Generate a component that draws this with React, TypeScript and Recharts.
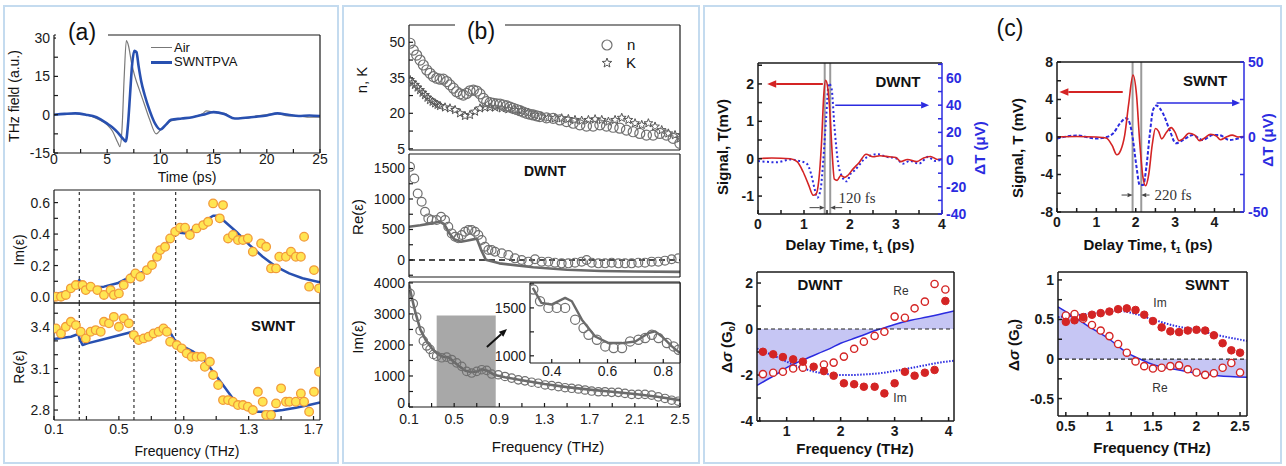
import React from 'react';
import { ComposedChart, Line, Scatter, Area, XAxis, YAxis, ReferenceLine, ReferenceArea } from 'recharts';

const FONT = "Arial, 'Liberation Sans', Helvetica, sans-serif";
const SERIF = "'Liberation Serif', 'Times New Roman', serif";

type P = [number, number];
type Spec = { domain: [number, number]; ticks: number[]; labels?: number[]; fmt?: (v: number) => string };
type Box = { x: number; y: number; w: number; h: number };
type Mg = { l: number; r: number; t: number; b: number };

// ---------------- Panel (a) data ----------------
const A_TIME_AIR: P[] = [[0,0],[1,0.3],[2,0.5],[3,0],[4,-1.5],[5,-4],[5.5,-6.5],[6,-11],[6.2,-12.5],[6.4,-5],[6.6,15],[6.8,29],[7.0,27],[7.3,20],[7.6,15],[8,10],[8.5,4],[9,-2],[9.6,-7.5],[10,-6],[10.5,-4],[11,-2.5],[12,-1.5],[13,-1],[14,0.5],[14.3,1.5],[15,1],[16,0.5],[17,-1.5],[18,-1.5],[19,-0.5],[20,0],[21,0.5],[22,-0.5],[23,-0.5],[24,-1],[25,-1]];
const A_TIME_SWNT: P[] = [[0,0],[1,0.3],[2,0.5],[3,0],[4,-1],[5,-3.5],[5.5,-5],[6,-7],[6.5,-9.5],[6.75,-10.5],[6.95,-4],[7.15,8],[7.35,20],[7.55,25],[7.75,24.5],[7.95,19],[8.2,13],[8.5,8],[9,1.5],[9.5,-3.5],[10,-5.8],[10.5,-4],[11,-2],[12,-1.5],[13,-1],[14,0],[15,1],[16,0.3],[17,-1.5],[18,-1.2],[19,-0.8],[20,-0.3],[21,0.5],[22,0],[23,-0.5],[24,-0.3],[25,-0.5]];
const A_IM_DATA: P[] = [[0.112,0.002],[0.143,0.002],[0.173,0.013],[0.204,0.055],[0.235,0.076],[0.276,0.076],[0.296,0.044],[0.326,0.066],[0.367,0.044],[0.408,0.013],[0.449,0.044],[0.469,0.013],[0.5,0.023],[0.53,0.076],[0.571,0.118],[0.602,0.15],[0.632,0.129],[0.673,0.171],[0.704,0.203],[0.735,0.256],[0.755,0.298],[0.785,0.319],[0.816,0.372],[0.847,0.415],[0.877,0.44],[0.908,0.44],[0.938,0.394],[0.979,0.436],[1.02,0.457],[1.05,0.478],[1.081,0.595],[1.122,0.5],[1.142,0.584],[1.173,0.372],[1.203,0.394],[1.234,0.362],[1.265,0.362],[1.295,0.372],[1.326,0.288],[1.377,0.34],[1.408,0.319],[1.438,0.182],[1.469,0.182],[1.489,0.256],[1.53,0.256],[1.561,0.288],[1.591,0.256],[1.622,0.256],[1.642,0.383],[1.673,0.066],[1.703,0.171],[1.734,0.055]];
const A_IM_FIT: P[] = [[0.1,0.017],[0.163,0.03],[0.224,0.066],[0.256,0.108],[0.285,0.076],[0.326,0.059],[0.408,0.066],[0.49,0.087],[0.551,0.119],[0.593,0.165],[0.622,0.15],[0.653,0.161],[0.694,0.203],[0.755,0.288],[0.816,0.373],[0.85,0.415],[0.877,0.408],[0.918,0.404],[0.979,0.446],[1.04,0.489],[1.081,0.516],[1.112,0.516],[1.142,0.489],[1.224,0.415],[1.306,0.33],[1.387,0.256],[1.469,0.193],[1.55,0.15],[1.632,0.119],[1.74,0.094]];
const A_RE_DATA: P[] = [[0.112,3.39],[0.143,3.354],[0.173,3.402],[0.204,3.438],[0.235,3.414],[0.265,3.366],[0.296,3.318],[0.326,3.366],[0.357,3.378],[0.388,3.366],[0.408,3.438],[0.439,3.427],[0.469,3.474],[0.5,3.402],[0.53,3.463],[0.561,3.427],[0.592,3.342],[0.622,3.306],[0.653,3.318],[0.683,3.33],[0.714,3.354],[0.745,3.366],[0.775,3.39],[0.796,3.366],[0.816,3.294],[0.857,3.27],[0.887,3.246],[0.918,3.21],[0.949,3.185],[0.979,3.185],[1.01,3.185],[1.03,3.113],[1.061,3.149],[1.081,3.053],[1.112,2.981],[1.142,2.872],[1.173,2.872],[1.203,2.86],[1.234,2.836],[1.265,2.836],[1.295,2.824],[1.326,2.8],[1.357,2.932],[1.387,2.86],[1.408,2.764],[1.438,2.764],[1.469,2.848],[1.5,2.957],[1.53,2.86],[1.551,2.86],[1.591,2.86],[1.622,2.92],[1.642,2.86],[1.673,2.788],[1.703,2.932],[1.734,3.077]];
const A_RE_FIT: P[] = [[0.1,3.313],[0.204,3.33],[0.25,3.35],[0.256,3.32],[0.276,3.27],[0.306,3.282],[0.388,3.306],[0.49,3.337],[0.585,3.366],[0.593,3.342],[0.612,3.318],[0.653,3.337],[0.714,3.354],[0.775,3.395],[0.796,3.39],[0.826,3.342],[0.857,3.282],[0.898,3.258],[0.959,3.222],[1.02,3.173],[1.081,3.077],[1.142,2.981],[1.203,2.884],[1.265,2.824],[1.347,2.788],[1.428,2.788],[1.51,2.8],[1.591,2.817],[1.673,2.836],[1.74,2.855]];
const A_DASH_F = [0.256, 0.593, 0.85];

// ---------------- Panel (b) data ----------------
const B_N: P[] = [[0.109,49.6],[0.138,46.7],[0.168,44.6],[0.198,42.5],[0.227,40.4],[0.257,38.3],[0.286,36.9],[0.316,35.5],[0.345,34.8],[0.375,34.4],[0.404,34.4],[0.434,33.4],[0.463,32.0],[0.493,30.6],[0.522,29.1],[0.552,28.2],[0.581,27.7],[0.611,28.4],[0.64,29.5],[0.67,29.8],[0.7,29.4],[0.729,28.2],[0.759,26.3],[0.788,24.9],[0.818,24.5],[0.847,24.2],[0.876,24.0],[0.906,23.9],[0.935,23.5],[0.965,23.1],[0.995,22.6],[1.024,22.1],[1.054,21.6],[1.083,21.1],[1.113,20.5],[1.142,20.0],[1.171,19.6],[1.2,19.3],[1.23,18.9],[1.259,18.6],[1.318,18.1],[1.377,17.9],[1.436,17.2],[1.495,16.5],[1.554,15.8],[1.613,15.1],[1.672,14.6],[1.731,14.6],[1.79,15.1],[1.849,14.6],[1.908,14.1],[1.967,13.7],[2.026,12.9],[2.085,12.2],[2.144,11.5],[2.203,10.8],[2.262,10.8],[2.321,11.5],[2.38,10.8],[2.439,9.4],[2.498,7.3]];
const B_K: P[] = [[0.109,34.1],[0.131,33.0],[0.153,32],[0.176,30.9],[0.198,29.8],[0.22,28.7],[0.242,27.7],[0.264,26.6],[0.286,25.6],[0.309,24.9],[0.331,24.2],[0.353,23.6],[0.375,23.1],[0.419,22.5],[0.463,22.1],[0.508,21.4],[0.552,20],[0.596,18.9],[0.64,19.3],[0.685,20.7],[0.729,22.1],[0.773,22.5],[0.818,22.5],[0.862,22.5],[0.921,22.1],[0.98,21.7],[1.039,21.4],[1.098,21.1],[1.157,20.3],[1.216,19.3],[1.275,18.6],[1.334,18.1],[1.393,17.9],[1.452,17.9],[1.511,17.6],[1.57,17.2],[1.629,16.9],[1.689,17.2],[1.748,17.5],[1.807,17.2],[1.866,16.5],[1.925,17.2],[1.984,18.1],[2.043,17.2],[2.102,15.8],[2.161,15.1],[2.22,15.8],[2.279,14.4],[2.338,12.9],[2.397,11.5],[2.456,10.8],[2.5,9.4]];
const B_RE_DATA: P[] = [[0.109,1527],[0.147,1337],[0.177,1091],[0.212,955],[0.242,791],[0.271,682],[0.301,655],[0.345,655],[0.384,709],[0.419,655],[0.448,545],[0.478,436],[0.508,382],[0.537,355],[0.567,409],[0.596,464],[0.626,491],[0.655,491],[0.685,464],[0.714,409],[0.744,327],[0.773,218],[0.803,164],[0.832,164],[0.862,136],[0.921,109],[0.98,82],[1.039,27],[1.098,0],[1.157,-27],[1.216,11],[1.275,-27],[1.334,-27],[1.393,-44],[1.452,-55],[1.511,-55],[1.57,-44],[1.629,-27],[1.673,0],[1.718,-44],[1.777,-55],[1.836,-55],[1.895,-44],[1.954,-55],[2.013,-55],[2.072,-55],[2.131,-44],[2.19,-44],[2.249,-27],[2.308,-27],[2.367,-11],[2.426,11],[2.485,27]];
const B_RE_FIT: P[] = [[0.1,545],[0.2,570],[0.3,600],[0.37,630],[0.41,590],[0.46,430],[0.5,340],[0.56,300],[0.62,320],[0.7,350],[0.74,160],[0.78,5],[0.9,-55],[1.2,-120],[1.5,-160],[1.8,-180],[2.1,-190],[2.5,-195]];
const B_IM_DATA: P[] = [[0.109,3662],[0.138,3334],[0.168,2898],[0.198,2459],[0.227,2131],[0.257,1967],[0.286,1859],[0.316,1695],[0.345,1639],[0.39,1587],[0.434,1607],[0.478,1531],[0.522,1423],[0.567,1311],[0.611,1148],[0.655,1095],[0.7,1150],[0.744,1203],[0.788,1180],[0.832,1062],[0.891,1039],[0.95,984],[1.009,931],[1.068,875],[1.127,843],[1.186,800],[1.245,767],[1.305,711],[1.364,689],[1.423,656],[1.482,623],[1.541,603],[1.6,580],[1.659,548],[1.718,515],[1.777,492],[1.836,492],[1.895,472],[1.954,472],[2.013,439],[2.072,407],[2.131,407],[2.19,407],[2.249,384],[2.308,328],[2.367,275],[2.426,220],[2.485,187]];
const B_IM_FIT: P[] = [[0.1,3950],[0.13,3450],[0.16,3000],[0.2,2500],[0.25,2150],[0.3,1900],[0.35,1720],[0.4,1620],[0.45,1600],[0.5,1450],[0.55,1300],[0.6,1170],[0.65,1130],[0.7,1140],[0.75,1220],[0.8,1160],[0.86,1030],[0.95,960],[1.1,860],[1.3,740],[1.5,640],[1.7,560],[1.9,490],[2.1,420],[2.3,330],[2.5,220]];
const B_INSET_DATA: P[] = [[0.334,1692],[0.358,1569],[0.388,1500],[0.418,1500],[0.448,1500],[0.484,1377],[0.514,1290],[0.532,1220],[0.562,1168],[0.592,1098],[0.622,1081],[0.652,1081],[0.681,1150],[0.711,1168],[0.735,1186],[0.759,1220],[0.783,1186],[0.813,1133],[0.837,1098],[0.855,1063]];
const B_INSET_FIT: P[] = [[0.332,1710],[0.363,1552],[0.399,1535],[0.448,1605],[0.472,1569],[0.508,1377],[0.556,1202],[0.604,1133],[0.652,1133],[0.7,1150],[0.747,1238],[0.771,1255],[0.795,1202],[0.831,1098],[0.86,1028]];

// ---------------- Panel (c) data ----------------
const C_DW_SIG: P[] = [[0,0],[0.3,0.02],[0.7,0],[0.85,-0.08],[0.98,-0.35],[1.1,-0.7],[1.2,-0.98],[1.26,-0.95],[1.32,-0.6],[1.38,0.4],[1.43,1.7],[1.47,2.1],[1.51,1.95],[1.56,1.3],[1.61,0.2],[1.66,-0.55],[1.72,-0.58],[1.8,-0.45],[1.88,-0.5],[1.95,-0.45],[2.05,-0.3],[2.2,-0.1],[2.35,0.12],[2.5,0.05],[2.65,0.08],[2.85,0.05],[3.0,0.03],[3.1,-0.08],[3.25,-0.02],[3.45,-0.08],[3.6,0.02],[3.75,0.06],[3.9,-0.02],[4,0]];
const C_DW_DT: P[] = [[0,-1],[0.4,-2],[0.7,0],[0.9,-1],[1.06,-3],[1.15,-10],[1.22,-20],[1.29,-28],[1.36,-22],[1.42,0],[1.48,30],[1.54,56],[1.6,52],[1.66,25],[1.74,-2],[1.82,-12],[1.93,-16],[2.02,-10],[2.1,-8],[2.2,-4],[2.3,0],[2.45,3],[2.6,4],[2.8,2],[3.0,1],[3.15,-3],[3.3,-1],[3.5,-3],[3.7,2],[3.85,-1],[4,0]];
const C_SW_SIG: P[] = [[0,0],[0.5,0.05],[1.0,0],[1.25,-0.1],[1.4,-0.9],[1.52,-1.9],[1.62,-1.4],[1.72,0.2],[1.82,3.5],[1.93,6.6],[2.02,4.5],[2.1,-0.5],[2.18,-4.2],[2.25,-5.2],[2.33,-4],[2.42,-0.8],[2.5,0.9],[2.58,0.6],[2.66,-0.2],[2.78,0.5],[2.9,1.0],[3.0,0.5],[3.1,-0.4],[3.2,-0.2],[3.35,0.4],[3.5,0.2],[3.62,-0.4],[3.75,-0.1],[3.9,0.3],[4.05,0.1],[4.15,-0.3],[4.3,0],[4.45,0.2],[4.6,0],[4.75,0.05]];
const C_SW_DT: P[] = [[0,-1],[0.5,1],[1.0,-1],[1.26,0],[1.43,2.5],[1.6,9],[1.76,12.5],[1.85,9],[1.93,-2],[2.02,-20],[2.1,-32],[2.19,-32],[2.27,-20],[2.36,2.5],[2.44,18],[2.52,21],[2.69,15.8],[2.86,4.7],[3.02,-4.2],[3.2,-2],[3.45,1.3],[3.7,-2],[3.96,1.3],[4.12,1.3],[4.38,-2],[4.72,0]];
const C_DW_RE_FIT: P[] = [[0.45,-2.45],[0.6,-2.25],[0.8,-1.98],[1.0,-1.68],[1.2,-1.45],[1.4,-1.25],[1.6,-1.05],[1.8,-0.85],[2.0,-0.62],[2.2,-0.45],[2.4,-0.28],[2.6,-0.1],[2.8,0.05],[3.0,0.2],[3.3,0.38],[3.6,0.52],[3.8,0.62],[4.0,0.73],[4.1,0.78]];
const C_DW_IM_FIT: P[] = [[0.45,-0.85],[0.6,-1.0],[0.8,-1.2],[1.0,-1.42],[1.2,-1.62],[1.4,-1.78],[1.6,-1.9],[1.8,-1.97],[2.0,-2.0],[2.2,-2.0],[2.4,-1.98],[2.6,-1.95],[2.8,-1.9],[3.0,-1.82],[3.2,-1.74],[3.4,-1.65],[3.6,-1.56],[3.8,-1.47],[4.1,-1.38]];
const C_DW_RE: P[] = [[0.56,-1.96],[0.75,-1.9],[0.93,-1.86],[1.12,-1.72],[1.3,-1.68],[1.69,-1.54],[1.87,-1.46],[2.06,-1.2],[2.25,-0.86],[2.43,-0.55],[2.63,-0.3],[2.81,-0.12],[3.0,0.54],[3.19,0.49],[3.37,0.9],[3.56,1.19],[3.74,1.96],[3.94,1.72]];
const C_DW_IM: P[] = [[0.56,-0.99],[0.75,-1.1],[0.93,-1.22],[1.12,-1.32],[1.3,-1.42],[1.5,-1.64],[1.69,-1.83],[1.87,-2.03],[2.06,-2.36],[2.25,-2.4],[2.43,-2.51],[2.63,-2.51],[2.81,-2.8],[3.0,-2.36],[3.19,-1.86],[3.37,-2.03],[3.56,-1.9],[3.74,-1.78],[3.94,1.22]];
const C_SW_RE_FIT: P[] = [[0.41,0.66],[0.5,0.6],[0.75,0.42],[1.0,0.25],[1.2,0.08],[1.35,0],[1.5,-0.07],[1.75,-0.13],[2.0,-0.18],[2.25,-0.21],[2.58,-0.23]];
const C_SW_IM_FIT: P[] = [[0.41,0.53],[0.6,0.55],[0.8,0.58],[1.0,0.6],[1.1,0.61],[1.3,0.57],[1.5,0.5],[1.75,0.42],[2.0,0.37],[2.25,0.3],[2.58,0.23]];
const C_SW_IM: P[] = [[0.5,0.47],[0.6,0.49],[0.7,0.53],[0.8,0.56],[0.9,0.58],[1.0,0.6],[1.1,0.63],[1.2,0.64],[1.3,0.62],[1.4,0.56],[1.5,0.48],[1.6,0.4],[1.7,0.35],[1.8,0.34],[1.9,0.36],[2.0,0.37],[2.1,0.36],[2.2,0.3],[2.3,0.2],[2.4,0.11],[2.5,0.08]];
const C_SW_RE: P[] = [[0.5,0.55],[0.6,0.57],[0.7,0.51],[0.8,0.43],[0.9,0.36],[1.0,0.29],[1.1,0.19],[1.2,0.08],[1.3,-0.03],[1.4,-0.09],[1.5,-0.12],[1.6,-0.11],[1.7,-0.09],[1.8,-0.08],[1.9,-0.13],[2.0,-0.17],[2.1,-0.2],[2.2,-0.18],[2.3,-0.11],[2.4,-0.05],[2.5,-0.17]];

// ---------------- Tick arrays ----------------
const T_A_TIME = [0,2.5,5,7.5,10,12.5,15,17.5,20,22.5,25];
const L_A_TIME = [0,5,10,15,20,25];
const T_A_FIELD = [-15,-7.5,0,7.5,15,22.5,30];
const L_A_FIELD = [-15,0,15,30];
const T_A_FREQ = [0.1,0.3,0.5,0.7,0.9,1.1,1.3,1.5,1.7];
const L_A_FREQ = [0.1,0.5,0.9,1.3,1.7];
const T_A_IM = [0,0.1,0.2,0.3,0.4,0.5,0.6];
const L_A_IM = [0,0.2,0.4,0.6];
const T_A_RE = [2.8,2.9,3.0,3.1,3.2,3.3,3.4,3.5];
const L_A_RE = [2.8,3.1,3.4];
const T_B_FREQ = [0.1,0.3,0.5,0.7,0.9,1.1,1.3,1.5,1.7,1.9,2.1,2.3,2.5];
const L_B_FREQ = [0.1,0.5,0.9,1.3,1.7,2.1,2.5];
const T_B_NK = [5,12.5,20,27.5,35,42.5,50];
const L_B_NK = [5,20,35,50];
const T_B_RE = [-250,0,250,500,750,1000,1250,1500];
const L_B_RE = [0,500,1000,1500];
const T_B_IM = [0,500,1000,1500,2000,2500,3000,3500,4000];
const L_B_IM = [0,1000,2000,3000,4000];
const T_IN_X = [0.4,0.5,0.6,0.7,0.8];
const L_IN_X = [0.4,0.6,0.8];
const T_IN_Y = [1000,1250,1500,1750];
const L_IN_Y = [1000,1500];
const T_C1_X = [0,0.5,1,1.5,2,2.5,3,3.5,4];
const L_C1_X = [0,1,2,3,4];
const T_C1_L = [-1,-0.5,0,0.5,1,1.5,2,2.5];
const L_C1_L = [-1,0,1,2];
const T_C1_R = [-40,-30,-20,-10,0,10,20,30,40,50,60,70];
const L_C1_R = [-40,-20,0,20,40,60];
const T_C2_X = [0,0.5,1,1.5,2,2.5,3,3.5,4,4.5];
const L_C2_X = [0,1,2,3,4];
const T_C2_L = [-8,-6,-4,-2,0,2,4,6,8];
const L_C2_L = [-8,-4,0,4,8];
const T_C2_R = [-50,-25,0,25,50];
const L_C2_R = [-50,0,50];
const T_C3_X = [0.5,1,1.5,2,2.5,3,3.5,4];
const L_C3_X = [1,2,3,4];
const T_C3_Y = [-4,-3,-2,-1,0,1,2];
const L_C3_Y = [-4,-2,0,2];
const T_C4_X = [0.5,0.75,1,1.25,1.5,1.75,2,2.25,2.5];
const L_C4_X = [0.5,1,1.5,2,2.5];
const T_C4_Y = [-0.5,-0.25,0,0.25,0.5,0.75,1];
const L_C4_Y = [-0.5,0,0.5,1];

// ---------------- helpers ----------------
const xy = (a: P[]) => a.map(([x, y]) => ({ x, y }));
const f1 = (v: number) => v.toFixed(1);

const labelFmt = (s?: Spec) => (v: number) => {
  if (!s || !s.labels) return '';
  return s.labels.some((l) => Math.abs(l - v) < 1e-6) ? (s.fmt ? s.fmt(v) : String(v)) : '';
};

const TK = 4;

function axes(o: { x: Spec; y: Spec; y2?: Spec; m: Mg; fs: number; bold?: boolean; y2Color?: string; lw?: number; xm?: number; yLift?: number }) {
  const color = '#1a1a1a';
  const tickStyle: any = { fontSize: o.fs, fontFamily: FONT, fontWeight: o.bold ? 700 : 400, fill: color };
  const base: any = { type: 'number', allowDataOverflow: true, interval: 0, tickSize: -TK, strokeWidth: o.lw || 1.2 };
  const r = o.y2 || o.y;
  const yfmt = labelFmt(o.y);
  const yTick: any = !o.y.labels ? false : o.yLift
    ? (p: any) => {
        const v = p.payload.value;
        const s = yfmt(v);
        if (!s) return <g />;
        const lift = Math.abs(v - o.y.domain[0]) < 1e-6 ? o.yLift! : 0;
        return <text x={p.x} y={p.y - lift} dy="0.355em" textAnchor="end" {...tickStyle}>{s}</text>;
      }
    : tickStyle;
  return [
    <XAxis key="xb" xAxisId="b" dataKey="x" orientation="bottom" height={Math.max(1, o.m.b)} domain={o.x.domain} ticks={o.x.ticks}
      tickFormatter={labelFmt(o.x)} tick={o.x.labels ? tickStyle : false} tickMargin={TK + (o.xm ?? 3)} stroke={color} {...base} />,
    <XAxis key="xt" xAxisId="t" dataKey="x" orientation="top" height={1} domain={o.x.domain} ticks={o.x.ticks}
      tick={false} stroke={color} {...base} />,
    <YAxis key="yl" yAxisId="l" dataKey="y" orientation="left" width={o.m.l} domain={o.y.domain} ticks={o.y.ticks}
      tickFormatter={yfmt} tick={yTick} tickMargin={TK + 4} stroke={color} {...base} />,
    <YAxis key="yr" yAxisId="r" dataKey="y" orientation="right" width={Math.max(1, o.m.r)} domain={r.domain} ticks={r.ticks}
      tickFormatter={labelFmt(o.y2)} tick={o.y2 ? { ...tickStyle, fill: o.y2Color || color } : false} tickMargin={TK + 4}
      stroke={o.y2Color || color} {...base} />,
  ];
}

function Chart({ box, m, children }: { box: Box; m: Mg; children: React.ReactNode }) {
  return (
    <div style={{ position: 'absolute', left: box.x - m.l, top: box.y - m.t }}>
      <ComposedChart width={m.l + box.w + m.r} height={m.t + box.h + Math.max(1, m.b)}
        margin={{ top: m.t - 1, right: 0, bottom: 0, left: 0 }}>
        {children}
      </ComposedChart>
    </div>
  );
}

function line(key: string, data: P[], color: string, w: number, opt: any = {}) {
  return (
    <Line key={key} data={xy(data)} dataKey="y" xAxisId="b" yAxisId={opt.axis || 'l'} type={opt.type || 'linear'}
      stroke={color} strokeWidth={w} strokeDasharray={opt.dash} dot={false} activeDot={false}
      isAnimationActive={false} strokeLinejoin="round" strokeLinecap={opt.cap || 'butt'} />
  );
}

function dots(key: string, data: P[], shape: (p: any) => React.ReactElement) {
  return <Scatter key={key} data={xy(data)} dataKey="y" xAxisId="b" yAxisId="l" shape={shape} isAnimationActive={false} />;
}

const circ = (r: number, fill: string, stroke: string, sw: number) => (p: any) =>
  <circle cx={p.cx} cy={p.cy} r={r} fill={fill} stroke={stroke} strokeWidth={sw} />;

const starPath = (cx: number, cy: number, R: number) => {
  let d = '';
  for (let i = 0; i < 10; i++) {
    const a = -Math.PI / 2 + (i * Math.PI) / 5;
    const rr = i % 2 ? R * 0.42 : R;
    d += (i ? 'L' : 'M') + (cx + rr * Math.cos(a)).toFixed(2) + ',' + (cy + rr * Math.sin(a)).toFixed(2);
  }
  return d + 'Z';
};
const star = (R: number) => (p: any) => <path d={starPath(p.cx, p.cy, R)} fill="none" stroke="#555" strokeWidth={1} />;

const arrowShape = (color: string, w: number, head: number) => (p: any) => {
  const { x1, y1, x2, y2 } = p;
  const ang = Math.atan2(y2 - y1, x2 - x1);
  const hx = x2 - head * Math.cos(ang);
  const hy = y2 - head * Math.sin(ang);
  const hw = head * 0.42;
  const a1 = `${hx + hw * Math.sin(ang)},${hy - hw * Math.cos(ang)}`;
  const a2 = `${hx - hw * Math.sin(ang)},${hy + hw * Math.cos(ang)}`;
  return (
    <g>
      <line x1={x1} y1={y1} x2={hx} y2={hy} stroke={color} strokeWidth={w} />
      <polygon points={`${x2},${y2} ${a1} ${a2}`} fill={color} />
    </g>
  );
};

function arrow(key: string, from: P, to: P, color: string, w: number, head: number, axis = 'l') {
  return (
    <ReferenceLine key={key} xAxisId="b" yAxisId={axis} segment={[{ x: from[0], y: from[1] }, { x: to[0], y: to[1] }]}
      shape={arrowShape(color, w, head)} ifOverflow="visible" />
  );
}

function Tx({ x, y, s = 14, b = false, c = '#111', rot = false, f = FONT, a = 'middle', children }: any) {
  const tx = a === 'middle' ? '-50%' : a === 'end' ? '-100%' : '0%';
  return (
    <div style={{
      position: 'absolute', left: x, top: y, transform: `translate(${tx}, -50%)` + (rot ? ' rotate(-90deg)' : ''),
      fontSize: s, fontWeight: b ? 700 : 400, color: c, fontFamily: f, whiteSpace: 'nowrap', lineHeight: 1.1,
    }}>{children}</div>
  );
}

const Sub = ({ children }: any) => <span style={{ fontSize: '0.62em', verticalAlign: '-0.3em' }}>{children}</span>;

// colors
const YEL = '#ffe552';
const ORG = '#f29b3a';
const ABLUE = '#2850b0';
const GRAY = '#6a6a6a';
const RED = '#d42424';
const CBLUE = '#2b2be0';
const LAV = '#c6c6f4';

// ---------------- boxes ----------------
const A1: Box = { x: 54, y: 35, w: 266, h: 118 };
const A2: Box = { x: 54, y: 190, w: 266, h: 113 };
const A3: Box = { x: 54, y: 303, w: 266, h: 117 };
const B1: Box = { x: 409, y: 25, w: 271, h: 125 };
const B2: Box = { x: 409, y: 154, w: 271, h: 123 };
const B3: Box = { x: 409, y: 282, w: 271, h: 125 };
const BI: Box = { x: 530, y: 283, w: 150, h: 80 };
const C1: Box = { x: 758, y: 63, w: 184, h: 151 };
const C2: Box = { x: 1057, y: 62, w: 187, h: 150 };
const C3: Box = { x: 757, y: 272, w: 197, h: 149 };
const C4: Box = { x: 1058, y: 272, w: 189, h: 144 };

export default function App() {
  const mA1: Mg = { l: 54, r: 8, t: 10, b: 20 };
  const mA2: Mg = { l: 54, r: 8, t: 8, b: 1 };
  const mA3: Mg = { l: 54, r: 8, t: 1, b: 24 };
  const mB1: Mg = { l: 50, r: 8, t: 10, b: 9 };
  const mB2: Mg = { l: 50, r: 8, t: 8, b: 1 };
  const mB3: Mg = { l: 50, r: 14, t: 8, b: 28 };
  const mBI: Mg = { l: 36, r: 2, t: 2, b: 20 };
  const mC1: Mg = { l: 40, r: 40, t: 8, b: 24 };
  const mC2: Mg = { l: 40, r: 40, t: 8, b: 24 };
  const mC3: Mg = { l: 40, r: 10, t: 8, b: 24 };
  const mC4: Mg = { l: 46, r: 12, t: 8, b: 24 };

  const panel = (left: number, width: number) => (
    <div style={{ position: 'absolute', left, top: 5, width, height: 459, border: '2px solid #c4dbef', boxSizing: 'border-box' }} />
  );

  return (
    <div style={{ position: 'absolute', left: 0, top: 0, width: 1286, height: 466, background: '#fff', overflow: 'hidden', fontFamily: FONT }}>
      {panel(3, 336)}
      {panel(342, 358)}
      {panel(703, 579)}

      {/* ---------- Panel (a) ---------- */}
      <Chart box={A1} m={mA1}>
        {axes({ x: { domain: [0, 25], ticks: T_A_TIME, labels: L_A_TIME }, y: { domain: [-15, 31.2], ticks: T_A_FIELD, labels: L_A_FIELD }, m: mA1, fs: 14, xm: 1 })}
        {line('air', A_TIME_AIR, '#7a7a7a', 1.2, { type: 'monotone' })}
        {line('swnt', A_TIME_SWNT, ABLUE, 2.6, { type: 'monotone' })}
      </Chart>
      <div style={{ position: 'absolute', left: 56, top: 26, width: 52, height: 13, background: '#fff' }} />
      <Tx x={82} y={33} s={23}>(a)</Tx>
      <div style={{ position: 'absolute', left: 151, top: 47, width: 21, height: 1.3, background: '#777' }} />
      <Tx x={174} y={48} s={13} a="start">Air</Tx>
      <div style={{ position: 'absolute', left: 151, top: 60.5, width: 21, height: 3, background: ABLUE }} />
      <Tx x={174} y={62} s={13} a="start">SWNTPVA</Tx>
      <Tx x={15} y={96} s={14} rot>THz field (a.u.)</Tx>
      <Tx x={187} y={178} s={14}>Time (ps)</Tx>

      <Chart box={A2} m={mA2}>
        {axes({ x: { domain: [0.1, 1.74], ticks: T_A_FREQ }, y: { domain: [-0.038, 0.68], ticks: T_A_IM, labels: L_A_IM, fmt: f1 }, m: mA2, fs: 14 })}
        {A_DASH_F.map((f, i) => <ReferenceLine key={'d' + i} x={f} xAxisId="b" yAxisId="l" stroke="#333" strokeDasharray="3 3" strokeWidth={1.2} />)}
        {dots('imd', A_IM_DATA, circ(4.3, YEL, ORG, 1.3))}
        {line('imf', A_IM_FIT, ABLUE, 2.5)}
      </Chart>
      <Chart box={A3} m={mA3}>
        {axes({ x: { domain: [0.1, 1.74], ticks: T_A_FREQ, labels: L_A_FREQ, fmt: f1 }, y: { domain: [2.728, 3.574], ticks: T_A_RE, labels: L_A_RE, fmt: f1 }, m: mA3, fs: 14, xm: 4 })}
        {A_DASH_F.map((f, i) => <ReferenceLine key={'d' + i} x={f} xAxisId="b" yAxisId="l" stroke="#333" strokeDasharray="3 3" strokeWidth={1.2} />)}
        {dots('red', A_RE_DATA, circ(4.3, YEL, ORG, 1.3))}
        {line('ref', A_RE_FIT, ABLUE, 2.5)}
      </Chart>
      <Tx x={20} y={250} s={14} rot>Im(ε)</Tx>
      <Tx x={20} y={367} s={14} rot>Re(ε)</Tx>
      <Tx x={273} y={326} s={15} b>SWNT</Tx>
      <Tx x={187} y={452} s={14}>Frequency (THz)</Tx>

      {/* ---------- Panel (b) ---------- */}
      <Chart box={B1} m={mB1}>
        {axes({ x: { domain: [0.1, 2.5], ticks: T_B_FREQ }, y: { domain: [4.5, 57.3], ticks: T_B_NK, labels: L_B_NK }, m: mB1, fs: 14 })}
        {dots('k', B_K, star(4.6))}
        {dots('n', B_N, circ(5, 'none', '#707070', 1.2))}
      </Chart>
      <div style={{ position: 'absolute', left: 455, top: 21, width: 50, height: 10, background: '#fff' }} />
      <Tx x={481} y={32} s={23}>(b)</Tx>
      <svg style={{ position: 'absolute', left: 598, top: 36 }} width={20} height={36}>
        <circle cx={9} cy={9} r={5} fill="none" stroke="#707070" strokeWidth={1.2} />
        <path d={starPath(9, 27, 5)} fill="none" stroke="#555" strokeWidth={1} />
      </svg>
      <Tx x={627} y={45} s={15} a="start">n</Tx>
      <Tx x={626} y={63} s={15} a="start">K</Tx>
      <Tx x={362} y={80} s={15} rot>n, K</Tx>

      <Chart box={B2} m={mB2}>
        {axes({ x: { domain: [0.1, 2.5], ticks: T_B_FREQ }, y: { domain: [-279, 1738], ticks: T_B_RE, labels: L_B_RE }, m: mB2, fs: 14 })}
        <ReferenceLine y={0} xAxisId="b" yAxisId="l" stroke="#111" strokeDasharray="6 4" strokeWidth={1.5} />
        {line('bref', B_RE_FIT, GRAY, 2.6)}
        {dots('bred', B_RE_DATA, circ(4.4, 'none', '#707070', 1.2))}
      </Chart>
      <Tx x={545} y={172} s={14} b>DWNT</Tx>
      <Tx x={358} y={217} s={15} rot>Re(ε)</Tx>

      <Chart box={B3} m={mB3}>
        {axes({ x: { domain: [0.1, 2.5], ticks: T_B_FREQ, labels: L_B_FREQ, fmt: f1 }, y: { domain: [0, 4030], ticks: T_B_IM, labels: L_B_IM }, m: mB3, fs: 14, xm: 7, yLift: 4 })}
        <ReferenceArea x1={0.345} x2={0.868} y1={0} y2={2950} xAxisId="b" yAxisId="l" fill="#a8a8a8" fillOpacity={1} stroke="none" />
        {line('bimf', B_IM_FIT, GRAY, 2.6)}
        {dots('bimd', B_IM_DATA, circ(4.2, 'none', '#707070', 1.2))}
        {arrow('barr', [0.79, 1935], [0.968, 2516], '#111', 2, 8)}
      </Chart>
      <div style={{ position: 'absolute', left: BI.x, top: BI.y, width: BI.w, height: BI.h, background: '#fff' }} />
      <Chart box={BI} m={mBI}>
        {axes({ x: { domain: [0.322, 0.86], ticks: T_IN_X, labels: L_IN_X, fmt: f1 }, y: { domain: [925, 1760], ticks: T_IN_Y, labels: L_IN_Y }, m: mBI, fs: 14 })}
        {line('inf', B_INSET_FIT, GRAY, 2.4)}
        {dots('ind', B_INSET_DATA, circ(4.6, 'none', '#707070', 1.2))}
      </Chart>
      <Tx x={358} y={337} s={15} rot>Im(ε)</Tx>
      <Tx x={548} y={447} s={15}>Frequency (THz)</Tx>

      {/* ---------- Panel (c) ---------- */}
      <Chart box={C1} m={mC1}>
        {axes({ x: { domain: [0, 4], ticks: T_C1_X, labels: L_C1_X }, y: { domain: [-1.48, 2.56], ticks: T_C1_L, labels: L_C1_L },
          y2: { domain: [-40, 71], ticks: T_C1_R, labels: L_C1_R }, y2Color: CBLUE, m: mC1, fs: 14, bold: true, lw: 1.5, xm: 5 })}
        <ReferenceLine x={1.45} xAxisId="b" yAxisId="l" stroke="#9a9a9a" strokeWidth={2} />
        <ReferenceLine x={1.57} xAxisId="b" yAxisId="l" stroke="#9a9a9a" strokeWidth={2} />
        {line('c1b', C_DW_DT, CBLUE, 2, { axis: 'r', type: 'monotone', dash: '2 2.5' })}
        {line('c1r', C_DW_SIG, RED, 1.6, { type: 'monotone' })}
        {arrow('c1ar', [1.41, 2], [0.2, 2], RED, 2, 9)}
        {arrow('c1ab', [1.68, 40], [3.72, 40], CBLUE, 1.5, 8, 'r')}
        {arrow('c1f1', [1.12, -1.31], [1.45, -1.31], '#444', 1, 5)}
        {arrow('c1f2', [1.83, -1.31], [1.57, -1.31], '#444', 1, 5)}
      </Chart>
      <Tx x={857} y={198} s={15} f={SERIF} c="#333">120 fs</Tx>
      <Tx x={898} y={82} s={15} b>DWNT</Tx>
      <Tx x={723} y={147} s={15} b rot>Signal, T(mV)</Tx>
      <Tx x={980} y={148} s={15} b c={CBLUE} rot>ΔT (μV)</Tx>
      <Tx x={850} y={246} s={15} b>Delay Time, t<Sub>1</Sub> (ps)</Tx>

      <Chart box={C2} m={mC2}>
        {axes({ x: { domain: [0, 4.75], ticks: T_C2_X, labels: L_C2_X }, y: { domain: [-8, 8], ticks: T_C2_L, labels: L_C2_L },
          y2: { domain: [-50, 50], ticks: T_C2_R, labels: L_C2_R }, y2Color: CBLUE, m: mC2, fs: 14, bold: true, lw: 1.5, xm: 5 })}
        <ReferenceLine x={1.92} xAxisId="b" yAxisId="l" stroke="#9a9a9a" strokeWidth={2} />
        <ReferenceLine x={2.14} xAxisId="b" yAxisId="l" stroke="#9a9a9a" strokeWidth={2} />
        {line('c2b', C_SW_DT, CBLUE, 2, { axis: 'r', type: 'monotone', dash: '3.5 2' })}
        {line('c2r', C_SW_SIG, RED, 1.6, { type: 'monotone' })}
        {arrow('c2ar', [1.67, 4.8], [0.06, 4.8], RED, 2, 9)}
        {arrow('c2ab', [2.53, 22.7], [4.65, 22.7], CBLUE, 1.5, 8, 'r')}
        {arrow('c2f1', [1.64, -6.19], [1.92, -6.19], '#444', 1, 5)}
        {arrow('c2f2', [2.35, -6.19], [2.14, -6.19], '#444', 1, 5)}
      </Chart>
      <Tx x={1010} y={29} s={23}>(c)</Tx>
      <Tx x={1173} y={195} s={15} f={SERIF} c="#333">220 fs</Tx>
      <Tx x={1205} y={81} s={15} b>SWNT</Tx>
      <Tx x={1018} y={148} s={15} b rot>Signal, T (mV)</Tx>
      <Tx x={1268} y={140} s={15} b c={CBLUE} rot>ΔT (μV)</Tx>
      <Tx x={1148} y={246} s={15} b>Delay Time, t<Sub>1</Sub> (ps)</Tx>

      <Chart box={C3} m={mC3}>
        {axes({ x: { domain: [0.45, 4.1], ticks: T_C3_X, labels: L_C3_X }, y: { domain: [-4, 2.48], ticks: T_C3_Y, labels: L_C3_Y }, m: mC3, fs: 14, bold: true, lw: 1.5, xm: 5 })}
        <Area key="c3a" data={xy(C_DW_RE_FIT)} dataKey="y" xAxisId="b" yAxisId="l" type="monotone" baseValue={0}
          stroke={CBLUE} strokeWidth={1.5} fill={LAV} fillOpacity={1} isAnimationActive={false} dot={false} activeDot={false} />
        <ReferenceLine y={0} xAxisId="b" yAxisId="l" stroke="#222" strokeDasharray="4 3" strokeWidth={1.2} />
        {line('c3im', C_DW_IM_FIT, CBLUE, 2, { type: 'monotone', dash: '1.5 1.5' })}
        {dots('c3re', C_DW_RE, circ(3.6, '#fff', RED, 1.4))}
        {dots('c3imd', C_DW_IM, circ(3.8, RED, RED, 1))}
      </Chart>
      <Tx x={820} y={285} s={15} b>DWNT</Tx>
      <Tx x={901} y={292} s={12} c="#333">Re</Tx>
      <Tx x={900} y={399} s={12} c="#333">Im</Tx>
      <Tx x={728} y={347} s={15} b rot>Δ<span style={{ fontStyle: 'italic' }}>σ</span> (G<Sub>0</Sub>)</Tx>
      <Tx x={855} y={449} s={15} b>Frequency (THz)</Tx>

      <Chart box={C4} m={mC4}>
        {axes({ x: { domain: [0.41, 2.58], ticks: T_C4_X, labels: L_C4_X }, y: { domain: [-0.72, 1.1], ticks: T_C4_Y, labels: L_C4_Y }, m: mC4, fs: 14, bold: true, lw: 1.5, xm: 5 })}
        <Area key="c4a" data={xy(C_SW_RE_FIT)} dataKey="y" xAxisId="b" yAxisId="l" type="monotone" baseValue={0}
          stroke={CBLUE} strokeWidth={1.5} fill={LAV} fillOpacity={1} isAnimationActive={false} dot={false} activeDot={false} />
        <ReferenceLine y={0} xAxisId="b" yAxisId="l" stroke="#222" strokeDasharray="4 3" strokeWidth={1.2} />
        {line('c4im', C_SW_IM_FIT, CBLUE, 2, { type: 'monotone', dash: '1.5 1.5' })}
        {dots('c4re', C_SW_RE, circ(3.6, '#fff', RED, 1.4))}
        {dots('c4imd', C_SW_IM, circ(3.8, RED, RED, 1))}
      </Chart>
      <Tx x={1207} y={285} s={15} b>SWNT</Tx>
      <Tx x={1160} y={304} s={12} c="#333">Im</Tx>
      <Tx x={1160} y={389} s={12} c="#333">Re</Tx>
      <Tx x={1015} y={345} s={15} b rot>Δ<span style={{ fontStyle: 'italic' }}>σ</span> (G<Sub>0</Sub>)</Tx>
      <Tx x={1152} y={448} s={15} b>Frequency (THz)</Tx>
    </div>
  );
}
